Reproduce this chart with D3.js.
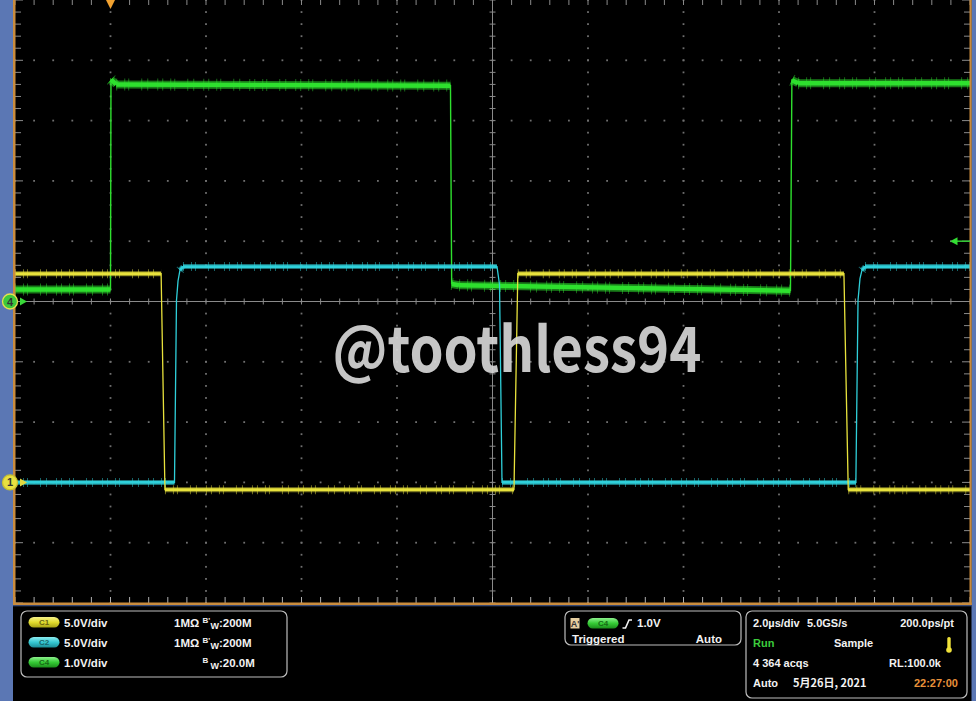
<!DOCTYPE html>
<html><head><meta charset="utf-8">
<script src="https://cdn.jsdelivr.net/npm/d3@7"></script>
<style>html,body{margin:0;padding:0;background:#000;}svg{display:block}</style>
</head><body>
<svg id="c" width="976" height="701"></svg>
<script>
// ---------------- DATA ----------------
// time axis: 2.0 µs/div, trigger at t = 0, 10 divisions shown
const timeDomain = [-2, 18];
// channel 1 (yellow) 5 V/div
const c1Time = [-2, 1.06, 1.14, 8.45, 8.53, 15.36, 15.45, 18];
const c1Volt = [17.3, 17.3, -0.6, -0.6, 17.3, 17.3, -0.6, -0.6];
// channel 2 (cyan) 5 V/div
const c2Time = [-2, 1.34, 1.382, 1.414, 1.455, 1.518, 8.094, 8.147, 8.199, 15.61, 15.655, 15.696, 15.738, 15.801, 18];
const c2Volt = [0, 0, 15.1, 16.7, 17.6, 17.9, 17.9, 16.4, 0, 0, 15.1, 16.9, 17.6, 17.9, 17.9];
// channel 4 (green) 1 V/div
const c4Time = [-2, 0, 0.01, 0.12, 7.12, 7.145, 7.3, 14.24, 14.27, 14.4, 18];
const c4Volt = [0.2, 0.2, 3.68, 3.6, 3.58, 0.29, 0.27, 0.18, 3.67, 3.62, 3.62];
// channel settings
const chanNames = ["C1", "C2", "C4"];
const chanVdiv = ["5.0V/div", "5.0V/div", "1.0V/div"];
const chanImp = ["1MΩ", "1MΩ", ""];
const chanBw = [":200M", ":200M", ":20.0M"];
const chanBwPrime = [true, true, false];
const triggerLevel = 1.0; // V on C4
const triggerTexts = ["1.0V", "Triggered", "Auto"];
const acqRow1 = ["2.0µs/div", "5.0GS/s", "200.0ps/pt"];
const acqRow2 = ["Run", "Sample"];
const acqRow3 = ["4 364 acqs", "RL:100.0k"];
const acqRow4 = ["Auto", "5月26日, 2021", "22:27:00"];
const watermark = "@toothless94";

// ---------------- LAYOUT ----------------
const svg = d3.select("#c");
const L = 15, R = 970, T = 0, B = 603;
const divX = d3.scaleLinear().domain([0, 10]).range([L, R]);
const divY = d3.scaleLinear().domain([0, 10]).range([T, B]);
const x = d3.scaleLinear().domain(timeDomain).range([L, R]);
function vScale(refDivFromTop, vdiv) {
  return d3.scaleLinear().domain([-(10 - refDivFromTop) * vdiv, refDivFromTop * vdiv]).range([B, T]);
}
const y1 = vScale(8, 5), y2 = vScale(8, 5), y4 = vScale(5, 1);

const BLUE = "#5b77b4", ORANGE = "#c98c3e", GRID = "#8a8a8a";

svg.append("rect").attr("width", 976).attr("height", 701).attr("fill", "#000");

// grid dots
const gGrid = svg.append("g");
const minorX = d3.range(0, 50.001, 1).map(m => divX(m / 5));
const minorY = d3.range(0, 50.001, 1).map(m => divY(m / 5));
d3.range(1, 10).filter(k => k !== 5).forEach(k => {
  const yy = divY(k);
  gGrid.selectAll(null).data(minorX).join("rect")
    .attr("x", d => d - 0.9).attr("y", yy - 0.9).attr("width", 1.8).attr("height", 1.8).attr("fill", "#6f6f6f");
  const xx = divX(k);
  gGrid.selectAll(null).data(minorY).join("rect")
    .attr("x", xx - 0.9).attr("y", d => d - 0.9).attr("width", 1.8).attr("height", 1.8).attr("fill", "#6f6f6f");
});
// center crosshair
gGrid.append("line").attr("x1", L).attr("x2", R).attr("y1", divY(5)).attr("y2", divY(5)).attr("stroke", GRID).attr("stroke-width", 1);
gGrid.append("line").attr("x1", divX(5)).attr("x2", divX(5)).attr("y1", T).attr("y2", B).attr("stroke", GRID).attr("stroke-width", 1);
gGrid.selectAll(null).data(minorX).join("line")
  .attr("x1", d => d).attr("x2", d => d).attr("y1", divY(5) - 3).attr("y2", divY(5) + 3).attr("stroke", GRID);
gGrid.selectAll(null).data(minorY).join("line")
  .attr("y1", d => d).attr("y2", d => d).attr("x1", divX(5) - 3).attr("x2", divX(5) + 3).attr("stroke", GRID);
// edge ticks
gGrid.selectAll(null).data(minorX).join("line")
  .attr("x1", d => d).attr("x2", d => d).attr("y1", T).attr("y2", T + 5).attr("stroke", GRID);
gGrid.selectAll(null).data(minorX).join("line")
  .attr("x1", d => d).attr("x2", d => d).attr("y1", B - 6).attr("y2", B).attr("stroke", "#b0b0b0");
gGrid.selectAll(null).data(minorY).join("line")
  .attr("y1", d => d).attr("y2", d => d).attr("x1", L).attr("x2", (d, i) => L + (i % 5 === 0 ? 8 : 6)).attr("stroke", GRID);
gGrid.selectAll(null).data(minorY).join("line")
  .attr("y1", d => d).attr("y2", d => d).attr("x1", (d, i) => R - (i % 5 === 0 ? 8 : 6)).attr("x2", R).attr("stroke", GRID);

// ---------------- TRACES ----------------
function drawTrace(times, volts, ys, col, bandW, coreW, edgeW, spikeCol) {
  const g = svg.append("g");
  const pts = times.map((t, i) => [x(t), ys(volts[i])]);
  const segs = d3.range(pts.length - 1).map(i => [pts[i], pts[i + 1]]);
  const level = segs.filter(s => Math.abs(s[1][1] - s[0][1]) < Math.abs(s[1][0] - s[0][0]) * 2);
  g.append("path").attr("d", d3.line()(pts)).attr("fill", "none").attr("stroke", col).attr("stroke-width", edgeW);
  g.selectAll(null).data(level).join("path").attr("d", d => d3.line()(d))
    .attr("fill", "none").attr("stroke", spikeCol).attr("stroke-width", bandW + 4).attr("stroke-opacity", 0.5)
    .attr("stroke-dasharray", "1 7 1 3 1 12 1 5 1 9 1 4");
  g.selectAll(null).data(level).join("path").attr("d", d => d3.line()(d))
    .attr("fill", "none").attr("stroke", col).attr("stroke-width", bandW).attr("stroke-opacity", 0.55);
  g.selectAll(null).data(level).join("path").attr("d", d => d3.line()(d))
    .attr("fill", "none").attr("stroke", col).attr("stroke-width", coreW);
}
drawTrace(c4Time, c4Volt, y4, "#2ee02e", 8, 4.5, 1.4, "#30d030");
drawTrace(c2Time, c2Volt, y2, "#2fd0da", 5, 2.8, 1.3, "#30c8d0");
drawTrace(c1Time, c1Volt, y1, "#e8e23c", 5, 2.8, 1.3, "#e0da40");

// watermark
svg.append("text").attr("x", 517).attr("y", 372).attr("text-anchor", "middle")
  .attr("font-family", "'Noto Sans CJK SC', 'Open Sans', sans-serif").attr("font-weight", "bold")
  .attr("font-size", 62).attr("fill", "#d6d6d6").attr("fill-opacity", 0.92)
  .attr("textLength", 369).attr("lengthAdjust", "spacingAndGlyphs").text(watermark);

// ---------------- FRAME ----------------
svg.append("rect").attr("x", 0).attr("y", 0).attr("width", 13).attr("height", 701).attr("fill", BLUE);
svg.append("rect").attr("x", 971.5).attr("y", 0).attr("width", 5).attr("height", 701).attr("fill", BLUE);
svg.append("rect").attr("x", 13).attr("y", 0).attr("width", 2.5).attr("height", 605).attr("fill", ORANGE);
svg.append("rect").attr("x", 969.5).attr("y", 0).attr("width", 2.2).attr("height", 605).attr("fill", ORANGE);
svg.append("rect").attr("x", 13).attr("y", 602.5).attr("width", 958.7).attr("height", 2.6).attr("fill", ORANGE);
svg.append("rect").attr("x", 13).attr("y", 605.1).attr("width", 958.7).attr("height", 1.2).attr("fill", "#3b4f80");

// trigger position marker
svg.append("path").attr("d", d3.line()([[x(0) - 4.5, 0], [x(0) + 4.5, 0], [x(0), 9]]))
  .attr("fill", "#f2a230");
// trigger level arrow
const ty = y4(triggerLevel);
svg.append("line").attr("x1", 956).attr("x2", R).attr("y1", ty).attr("y2", ty).attr("stroke", "#33cc33").attr("stroke-width", 1.5);
svg.append("path").attr("d", d3.line()([[950, ty], [957.5, ty - 4], [957.5, ty + 4]])).attr("fill", "#33dd33");

// channel reference markers
function refMarker(yy, fill, stroke, label, arrowCol) {
  svg.append("path").attr("d", d3.line()([[20, yy - 4], [27, yy], [20, yy + 4]])).attr("fill", arrowCol);
  svg.append("circle").attr("cx", 10).attr("cy", yy).attr("r", 7.5).attr("fill", fill).attr("stroke", stroke).attr("stroke-width", 1.3);
  svg.append("text").attr("x", 10).attr("y", yy + 4).attr("text-anchor", "middle")
    .attr("font-family", "'Liberation Sans', Arial, sans-serif").attr("font-weight", "bold").attr("font-size", 11)
    .attr("fill", "#333").text(label);
}
refMarker(y4(0), "#3cc83c", "#e6e050", "4", "#38d838");
refMarker(y1(0), "#e8e040", "#c8c030", "1", "#e0d840");

// ---------------- PANELS ----------------
const FONT = "'Liberation Sans', Arial, sans-serif";
function panel(x0, y0, w, h) {
  svg.append("rect").attr("x", x0).attr("y", y0).attr("width", w).attr("height", h).attr("rx", 6)
    .attr("fill", "#000").attr("stroke", "#bdbdbd").attr("stroke-width", 1.2);
}
function txt(xx, yy, s, opts = {}) {
  return svg.append("text").attr("x", xx).attr("y", yy).attr("font-family", FONT).attr("font-weight", "bold")
    .attr("font-size", opts.size || 11.5).attr("fill", opts.fill || "#f2f2f2")
    .attr("text-anchor", opts.anchor || "start").text(s);
}
const defs = svg.append("defs");
function pillGrad(id, light, mid, dark) {
  const gr = defs.append("linearGradient").attr("id", id).attr("x1", 0).attr("x2", 0).attr("y1", 0).attr("y2", 1);
  gr.append("stop").attr("offset", "0%").attr("stop-color", light);
  gr.append("stop").attr("offset", "50%").attr("stop-color", mid);
  gr.append("stop").attr("offset", "100%").attr("stop-color", dark);
}
pillGrad("pY", "#f6f28a", "#e2dc2e", "#a8a214");
pillGrad("pC", "#8cecf0", "#36c8d2", "#1a8c96");
pillGrad("pG", "#8cf08c", "#36cc36", "#1a8c1a");
const pillIds = ["pY", "pC", "pG"];
const pillText = ["#6a6610", "#17666c", "#176a17"];
function pill(xx, yy, id, label, tcol) {
  svg.append("rect").attr("x", xx).attr("y", yy).attr("width", 31).attr("height", 10.5).attr("rx", 5.25).attr("fill", `url(#${id})`);
  svg.append("text").attr("x", xx + 15.5).attr("y", yy + 8.3).attr("text-anchor", "middle").attr("font-family", FONT)
    .attr("font-weight", "bold").attr("font-size", 8).attr("fill", tcol).text(label);
}

// channel panel
panel(21, 611, 266, 66);
chanNames.forEach((n, i) => {
  const by = 627 + i * 20;
  pill(28.5, by - 10, pillIds[i], n, pillText[i]);
  txt(64, by, chanVdiv[i]);
  if (chanImp[i]) txt(174, by, chanImp[i]);
  // bandwidth label: raised B (with prime), lowered W, value
  txt(202.5, by - 4, chanBwPrime[i] ? "B'" : "B", { size: 8 });
  txt(210.5, by + 2, "W", { size: 9 });
  txt(219, by, chanBw[i]);
});

// trigger panel
panel(565, 611, 176, 34);
svg.append("rect").attr("x", 570.5).attr("y", 618).attr("width", 9).attr("height", 10.5).attr("fill", "#e6cfa0");
svg.append("text").attr("x", 575).attr("y", 626.5).attr("text-anchor", "middle").attr("font-family", FONT)
  .attr("font-weight", "bold").attr("font-size", 9).attr("fill", "#333").text("A'");
pill(587.5, 618, "pG", "C4", pillText[2]);
svg.append("path").attr("d", d3.line()([[622.5, 628], [625.5, 628], [629, 620], [632, 620]]))
  .attr("fill", "none").attr("stroke", "#f2f2f2").attr("stroke-width", 1.6);
txt(637, 627, triggerTexts[0]);
txt(572, 643, triggerTexts[1]);
txt(722, 643, triggerTexts[2], { anchor: "end" });

// acquisition panel
panel(746, 611, 221, 87);
txt(753, 627, acqRow1[0], { size: 11 });
txt(807, 627, acqRow1[1], { size: 11 });
txt(954, 627, acqRow1[2], { anchor: "end", size: 11 });
txt(753, 647, acqRow2[0], { fill: "#3ccc3c", size: 11 });
txt(834, 647, acqRow2[1], { size: 11 });
svg.append("rect").attr("x", 947.3).attr("y", 637).attr("width", 3.4).attr("height", 12).attr("rx", 1.5).attr("fill", "#f0e23a");
svg.append("circle").attr("cx", 949).attr("cy", 650).attr("r", 2.8).attr("fill", "#f0e23a");
txt(753, 667, acqRow3[0], { size: 11 });
txt(941, 667, acqRow3[1], { anchor: "end", size: 11 });
txt(753, 687, acqRow4[0], { size: 11 });
txt(793, 687, acqRow4[1]).attr("font-family", "'Noto Sans CJK SC', " + FONT).attr("font-size", 11);
txt(958, 687, acqRow4[2], { anchor: "end", fill: "#e8913a", size: 11 });
</script>
</body></html>
